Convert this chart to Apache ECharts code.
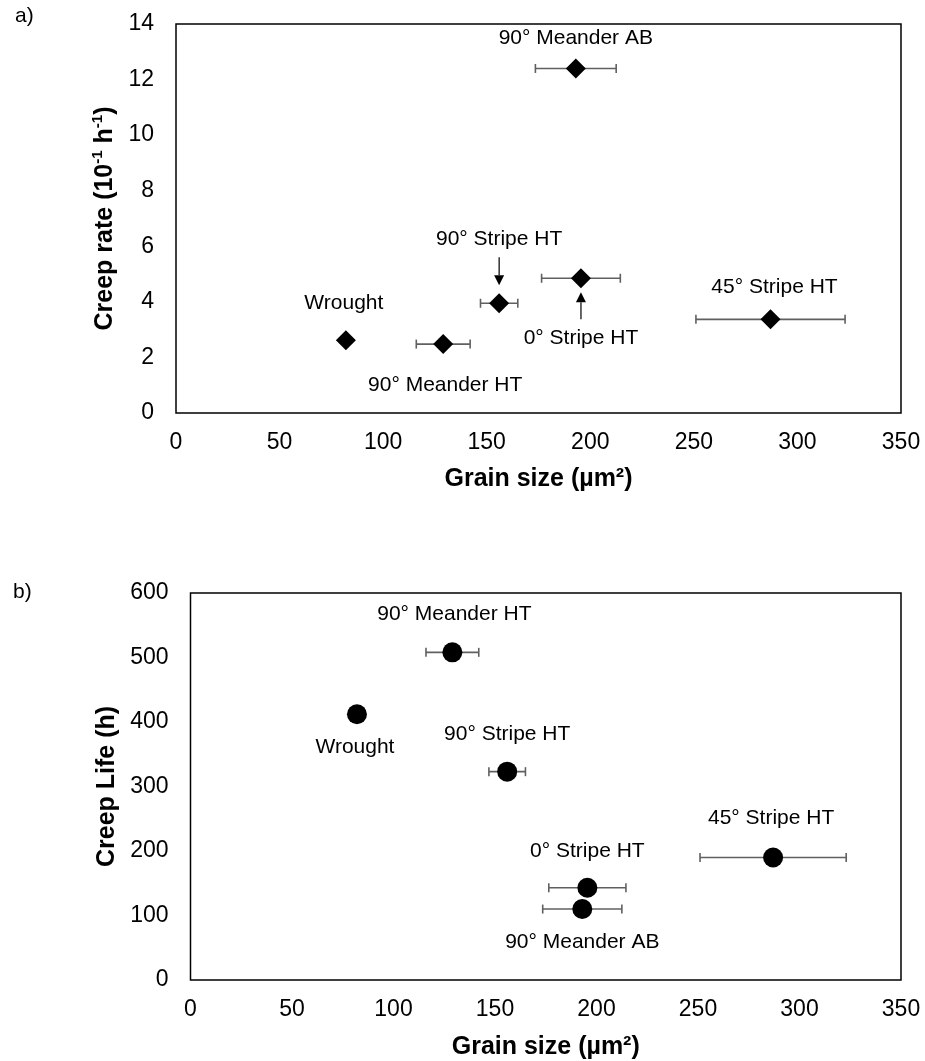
<!DOCTYPE html>
<html><head><meta charset="utf-8">
<script src="https://cdn.jsdelivr.net/npm/echarts@6/dist/echarts.min.js"></script>
<style>html,body{margin:0;padding:0;background:#fff}#c{width:925px;height:1061px}</style>
</head><body><div id="c"></div>
<script>
// ---- data ----
const samples = ['Wrought', '90° Meander HT', '90° Stripe HT', '0° Stripe HT', '90° Meander AB', '45° Stripe HT'];
const grainSize = [82, 129, 156, 195.5, 193, 287];
const grainSizeErr = [0, 13, 9, 19, 19.5, 36];
const creepRate = [2.62, 2.48, 3.95, 4.85, 12.4, 3.37];   // 10^-1 h^-1
const creepLife = [412, 508, 323, 143, 110, 190];          // h
const xTicks = [0, 50, 100, 150, 200, 250, 300, 350];
const rateTicks = [0, 2, 4, 6, 8, 10, 12, 14];
const lifeTicks = [0, 100, 200, 300, 400, 500, 600];

// ---- layout / style (not data) ----
const labelOffsetA = [[-2, -37], [2, 41], [0, -64], [0, 60], [0, -30], [4, -32]];
const labelOffsetB = [[-2, 33], [2, -38], [0, -37], [0, -37], [0, 33], [-2, -39]];
const arrowA = {2: [-46, -18], 3: [41, 14]}; // pixel offsets (start, tip) from marker
const FONT = 'Liberation Sans, Arial, sans-serif';

const chart = echarts.init(document.getElementById('c'), null, {renderer: 'canvas'});

function pts(yArr, offs) {
  return samples.map((n, i) => ({
    value: [grainSize[i], yArr[i]], name: n,
    label: {offset: offs[i]}
  }));
}
function errData(yArr) {
  return samples.map((n, i) => [grainSize[i], yArr[i], grainSizeErr[i]]);
}
function errRender(params, api) {
  const x = api.value(0), y = api.value(1), e = api.value(2);
  if (!e) return null;
  const p1 = api.coord([x - e, y]), p2 = api.coord([x + e, y]);
  const st = {stroke: '#606060', lineWidth: 1.6};
  return {type: 'group', children: [
    {type: 'line', shape: {x1: p1[0], y1: p1[1], x2: p2[0], y2: p2[1]}, style: st},
    {type: 'line', shape: {x1: p1[0], y1: p1[1] - 4.5, x2: p1[0], y2: p1[1] + 4.5}, style: st},
    {type: 'line', shape: {x1: p2[0], y1: p2[1] - 4.5, x2: p2[0], y2: p2[1] + 4.5}, style: st}
  ]};
}
function arrowRender(params, api) {
  const i = api.value(2);
  const a = arrowA[i];
  if (!a) return null;
  const p = api.coord([api.value(0), api.value(1)]);
  const y0 = p[1] + a[0], y1 = p[1] + a[1];
  const dir = y1 > y0 ? 1 : -1;
  const hb = y1 - dir * 10;
  return {type: 'group', children: [
    {type: 'line', shape: {x1: p[0], y1: y0, x2: p[0], y2: hb}, style: {stroke: '#000', lineWidth: 1.2}},
    {type: 'polygon', shape: {points: [[p[0] - 5, hb], [p[0] + 5, hb], [p[0], y1]]}, style: {fill: '#000'}}
  ]};
}

const axisLabelX = {color: '#000', fontSize: 23, fontFamily: FONT, margin: 18};
const axisLabelY = {color: '#000', fontSize: 23, fontFamily: FONT, margin: 22};
const nameStyle = {color: '#000', fontSize: 25, fontWeight: 'bold', fontFamily: FONT};
const labelStyle = {show: true, position: 'inside', formatter: '{b}', color: '#000', opacity: 1, fontSize: 21, fontFamily: FONT};

chart.setOption({
  animation: false,
  backgroundColor: '#fff',
  grid: [
    {left: 176, right: 24, top: 24, height: 389, show: true, borderColor: '#000', borderWidth: 1.5, backgroundColor: 'transparent'},
    {left: 190.5, right: 24, top: 593, height: 389, show: true, borderColor: '#000', borderWidth: 1.5, backgroundColor: 'transparent'}
  ],
  graphic: [
    {type: 'text', left: 15, top: 6, style: {text: 'a)', fontSize: 21, fontFamily: FONT, fill: '#000'}},
    {type: 'text', left: 13, top: 582, style: {text: 'b)', fontSize: 21, fontFamily: FONT, fill: '#000'}}
  ],
  xAxis: [0, 1].map(g => ({
    type: 'value', gridIndex: g, min: xTicks[0], max: xTicks[xTicks.length - 1], interval: xTicks[1] - xTicks[0],
    axisLine: {show: false}, axisTick: {show: false}, splitLine: {show: false},
    axisLabel: axisLabelX,
    name: 'Grain size (µm²)', nameLocation: 'middle', nameGap: g === 0 ? 54 : 55, nameTextStyle: nameStyle
  })),
  yAxis: [
    {type: 'value', gridIndex: 0, min: rateTicks[0], max: rateTicks[rateTicks.length - 1], interval: rateTicks[1] - rateTicks[0],
     axisLine: {show: false}, axisTick: {show: false}, splitLine: {show: false}, axisLabel: axisLabelY,
     name: '{b|Creep rate (10}{s|-1}{b| h}{s|-1}{b|)}', nameLocation: 'middle', nameGap: 56,
     nameTextStyle: {rich: {
       b: {fontSize: 25, fontWeight: 'bold', fontFamily: FONT, color: '#000', lineHeight: 29},
       s: {fontSize: 15, fontWeight: 'bold', fontFamily: FONT, color: '#000', verticalAlign: 'top', lineHeight: 29, padding: [0, 0, 10, 0]}
     }}},
    {type: 'value', gridIndex: 1, min: lifeTicks[0], max: lifeTicks[lifeTicks.length - 1], interval: lifeTicks[1] - lifeTicks[0],
     axisLine: {show: false}, axisTick: {show: false}, splitLine: {show: false}, axisLabel: axisLabelY,
     name: 'Creep Life (h)', nameLocation: 'middle', nameGap: 67, nameTextStyle: nameStyle}
  ],
  series: [
    {type: 'custom', xAxisIndex: 0, yAxisIndex: 0, renderItem: errRender, data: errData(creepRate), encode: {x: 0, y: 1}, z: 1, silent: true},
    {type: 'custom', xAxisIndex: 1, yAxisIndex: 1, renderItem: errRender, data: errData(creepLife), encode: {x: 0, y: 1}, z: 1, silent: true},
    {type: 'custom', xAxisIndex: 0, yAxisIndex: 0, renderItem: arrowRender,
     data: samples.map((n, i) => [grainSize[i], creepRate[i], i]), encode: {x: 0, y: 1}, z: 3, silent: true},
    {type: 'scatter', xAxisIndex: 0, yAxisIndex: 0, symbol: 'diamond', symbolSize: 20,
     itemStyle: {color: '#000', opacity: 1}, label: labelStyle, data: pts(creepRate, labelOffsetA), z: 5},
    {type: 'scatter', xAxisIndex: 1, yAxisIndex: 1, symbol: 'circle', symbolSize: 20,
     itemStyle: {color: '#000', opacity: 1}, label: labelStyle, data: pts(creepLife, labelOffsetB), z: 5}
  ]
});
</script>
</body></html>
